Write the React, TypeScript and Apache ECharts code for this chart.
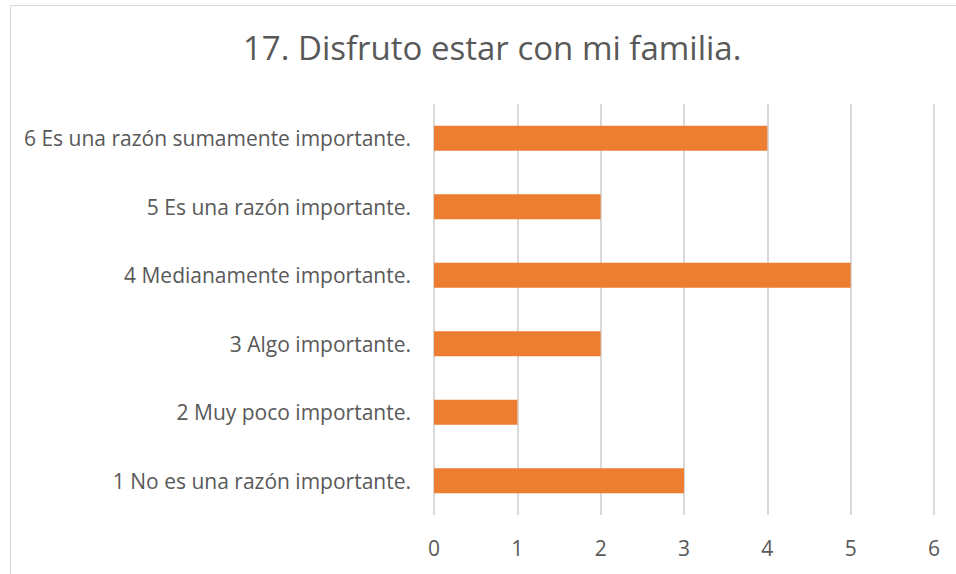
import React, { useEffect, useRef } from "react";
import * as echarts from "echarts";

const title = "17. Disfruto estar con mi familia.";
const categories = [
  "1 No es una razón importante.",
  "2 Muy poco importante.",
  "3 Algo importante.",
  "4 Medianamente importante.",
  "5 Es una razón importante.",
  "6 Es una razón sumamente importante.",
];
const values = [3, 1, 2, 5, 2, 4];
const xTicks = { min: 0, max: 6, interval: 1 };

const FONT = "'Open Sans', sans-serif";
const TEXT = "#595959";

export default function App() {
  const ref = useRef<HTMLDivElement>(null);
  useEffect(() => {
    document.body.style.margin = "0";
    const chart = echarts.init(ref.current!, null, { renderer: "svg" });
    chart.setOption({
      animation: false,
      backgroundColor: "#ffffff",
      title: {
        text: title,
        left: 238,
        top: 26,
        textStyle: { fontFamily: FONT, fontSize: 33, fontWeight: "normal", color: TEXT },
      },
      graphic: [
        {
          type: "rect",
          shape: { x: 10.5, y: 5.5, width: 1000, height: 1000 },
          style: { fill: "none", stroke: "#d9d9d9", lineWidth: 1 },
          silent: true,
        },
      ],
      grid: { left: 434, right: 22, top: 104, bottom: 59, containLabel: false },
      xAxis: {
        type: "value",
        min: xTicks.min,
        max: xTicks.max,
        interval: xTicks.interval,
        axisLine: { show: false },
        axisTick: { show: false },
        splitLine: { show: true, lineStyle: { color: "#d9d9d9", width: 2 } },
        axisLabel: { margin: 22, fontFamily: FONT, fontSize: 21, color: TEXT },
      },
      yAxis: {
        type: "category",
        data: categories,
        axisLine: { show: false },
        axisTick: { show: false },
        axisLabel: { margin: 23, fontFamily: FONT, fontSize: 21, color: TEXT },
      },
      series: [
        {
          type: "bar",
          data: values,
          barWidth: 25,
          itemStyle: { color: "#ED7D31" },
        },
      ],
    });
    return () => chart.dispose();
  }, []);
  return <div ref={ref} style={{ width: 956, height: 574 }} />;
}
